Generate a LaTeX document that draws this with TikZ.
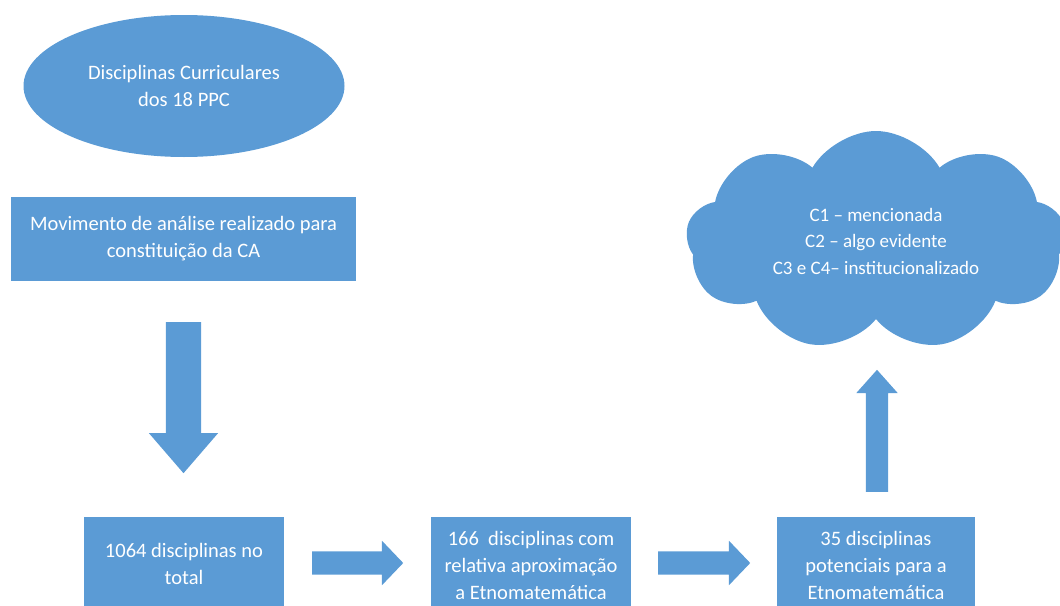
\documentclass[tikz,border=0pt]{standalone}
\usepackage{fontspec}
\setmainfont{Carlito}
\usetikzlibrary{shapes.geometric,shapes.arrows,shapes.symbols}
\definecolor{obl}{RGB}{91,155,213}
\begin{document}
\begin{tikzpicture}[x=1pt,y=1pt,
  shp/.style={fill=obl, draw=none, text=white, font=\fontsize{20.5}{27}\selectfont, align=center, inner sep=0pt},
  blk/.style n args={4}{single arrow, fill=obl, draw=none, inner xsep=0pt, inner ysep=#2,
     minimum height=#1, single arrow head extend=#3, single arrow tip angle=#4, single arrow head indent=0pt, anchor=tail}]
\useasboundingbox (0,0) rectangle (1060,-605);
\clip (0,0) rectangle (1060,-605);
\node[ellipse, shp, minimum width=321pt, minimum height=142pt] (ell) at (184,-86) {Disciplinas Curriculares\\dos 18 PPC};
\node[rectangle, shp, minimum width=345pt, minimum height=84pt] (mov) at (183.5,-239) {Movimento de análise realizado para\\constituição da CA};
\node[rectangle, shp, minimum width=200pt, minimum height=94pt] (b1) at (184,-564) {1064 disciplinas no\\total};
\node[rectangle, shp, minimum width=200pt, minimum height=96pt] (b2) at (531,-565) {166\ \ disciplinas com\\relativa aproximação\\a Etnomatemática};
\node[rectangle, shp, minimum width=198pt, minimum height=96pt] (b3) at (876,-565) {35 disciplinas\\potenciais para a\\Etnomatemática};
\node[cloud, cloud puffs=9, cloud puff arc=120, aspect=1.8, fill=obl, draw=none, text=white,
  font=\fontsize{19}{26.5}\selectfont, align=center, inner sep=0pt,
  minimum width=380pt, minimum height=220pt] (cl) at (876,-241) {C1 – mencionada\\C2 – algo evidente\\C3 e C4– institucionalizado};
\node[blk={151pt}{17.5pt}{17pt}{81.6}, rotate=-90] (adown) at (183.5,-322) {};
\node[blk={91pt}{11.5pt}{10.5pt}{92.6}] (aright1) at (312,-563) {};
\node[blk={92pt}{11.5pt}{10.5pt}{92.6}] (aright2) at (658,-563) {};
\node[blk={122pt}{11pt}{9.5pt}{83.4}, rotate=90] (aup) at (877,-492) {};
\end{tikzpicture}
\end{document}
